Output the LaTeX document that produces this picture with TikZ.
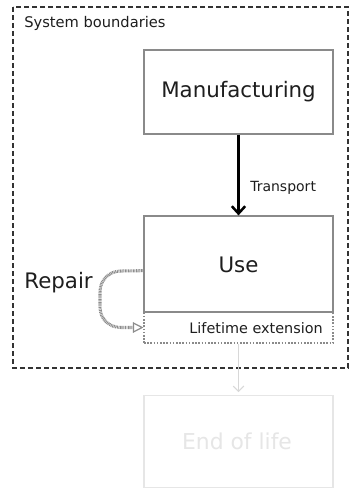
\documentclass[tikz,border=0pt]{standalone}
\usepackage{fontspec}
\setmainfont{DejaVu Sans}
\usetikzlibrary{arrows.meta}
\definecolor{boxgray}{HTML}{8A8A8A}
\definecolor{txt}{HTML}{1E1E1E}
\definecolor{faint}{HTML}{E6E6E6}
\definecolor{faintline}{HTML}{D8D8D8}
\definecolor{repgray}{HTML}{8C8C8C}
\definecolor{sysline}{HTML}{333333}
\tikzset{
  mainbox/.style={draw=boxgray, line width=0.9pt, minimum width=0.75*189pt, inner sep=0pt, text=txt, font=\fontsize{16}{19}\selectfont},
  extbox/.style={draw=boxgray, line width=0.8pt, dash pattern=on 1.2pt off 1.2pt, minimum width=0.75*189pt, minimum height=0.75*31pt, inner sep=0pt},
  eolbox/.style={draw=faint, line width=1pt, minimum width=0.75*189pt, minimum height=0.75*92pt, inner sep=0pt, text=faint, font=\fontsize{16.4}{19}\selectfont},
  sysbox/.style={draw=sysline, line width=1.1pt, dash pattern=on 3.6pt off 2.4pt},
  transportarrow/.style={line width=1.9pt, black, -{Straight Barb[length=5.5pt,width=10pt,line width=1.9pt]}},
  repairarrow/.style={draw=repgray, line width=2.3pt, dash pattern=on 0.7pt off 0.5pt, -{Triangle[open,length=8pt,width=8pt,line width=0.9pt]}},
  eolarrow/.style={draw=faintline, line width=0.8pt, -{Straight Barb[length=4pt,width=8pt,line width=0.8pt]}},
  lbl/.style={inner sep=0pt, text=txt}
}
\begin{document}
\begin{tikzpicture}[x=0.75pt,y=-0.75pt]
\useasboundingbox (0,0) rectangle (349,488);
\fill[white] (0,0) rectangle (349,488);
% system boundary
\draw[sysbox] (13,7) rectangle (348,368);
\node[lbl, anchor=west, font=\fontsize{11}{13}\selectfont] (sys) at (24,23) {System boundaries};
% boxes
\node[mainbox, minimum height=0.75*84pt] (manu) at (238.5,92) {Manufacturing};
\node[mainbox, minimum height=0.75*96pt] (use) at (238.5,264) {};
\node[lbl, font=\fontsize{16}{19}\selectfont] (uselbl) at (238.5,265) {Use};
\node[extbox] (life) at (238.5,327.5) {};
\node[lbl, anchor=east, font=\fontsize{10.8}{13}\selectfont] (lifelbl) at (323,328) {Lifetime extension};
\node[eolbox] (eol) at (238.5,441.5) {};
\node[inner sep=0pt, text=faint, font=\fontsize{16.4}{19}\selectfont] (eollbl) at (237,441) {End of life};
% transport
\draw[transportarrow] (manu.south) -- (use.north);
\node[lbl, anchor=west, font=\fontsize{10.5}{12}\selectfont] (trans) at (250,188) {Transport};
% repair
\coordinate (r1) at (121,271);
\coordinate (r2) at (100,292);
\coordinate (r3) at (100,307);
\coordinate (r4) at (121,327.5);
\draw[repairarrow] ([yshift=-5pt]use.west) -- (r1)
  .. controls (109,271) and (100,280) .. (r2) -- (r3)
  .. controls (100,319) and (109,327.5) .. (r4) -- (life.west);
\node[lbl, anchor=east, font=\fontsize{16}{19}\selectfont] (rep) at (93,283) {Repair};
% end of life arrow
\draw[eolarrow] (life.south) -- ([yshift=2pt]eol.north);
\end{tikzpicture}
\end{document}
